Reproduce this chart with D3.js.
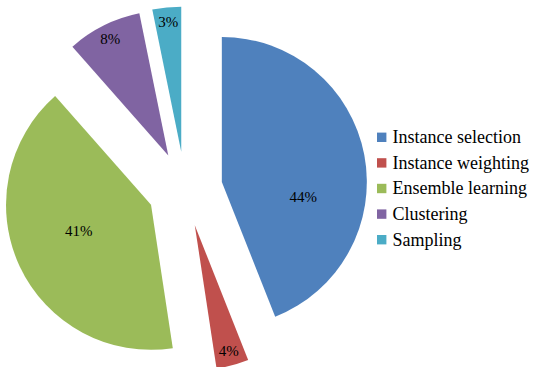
<!DOCTYPE html>
<html>
<head>
<meta charset="utf-8">
<script src="https://cdn.jsdelivr.net/npm/d3@7"></script>
<style>
  html, body { margin: 0; padding: 0; background: #fff; }
  svg { display: block; }
</style>
</head>
<body>
<svg id="chart" width="533" height="367"></svg>
<script>
const categories = ["Instance selection", "Instance weighting", "Ensemble learning", "Clustering", "Sampling"];
const values = [44.0, 3.6, 40.9, 8.3, 3.2];
const colors = ["#4F81BD", "#C0504D", "#9BBB59", "#8064A2", "#4BACC6"];

const svg = d3.select("#chart");
const cx = 185, cy = 189, R = 145, explode = 37.5;

const pie = d3.pie().sort(null).value(d => d.v);
const arcs = pie(categories.map((c, i) => ({ c, v: values[i], col: colors[i] })));
const arc = d3.arc().innerRadius(0).outerRadius(R);
const total = d3.sum(values);

const g = svg.append("g").attr("transform", `translate(${cx},${cy})`);

const slices = g.selectAll("g.slice").data(arcs).enter().append("g")
  .attr("class", "slice")
  .attr("transform", d => {
    const a = (d.startAngle + d.endAngle) / 2;
    return `translate(${Math.sin(a) * explode},${-Math.cos(a) * explode})`;
  });

slices.append("path")
  .attr("d", arc)
  .attr("fill", d => d.data.col);

slices.append("text")
  .attr("transform", d => {
    let a = (d.startAngle + d.endAngle) / 2;
    const frac = d.data.v / total;
    let rr = frac < 0.1 ? 0.9 * R : 0.53 * R;
    if (d.index === 0) { a += 0.37; rr = 0.57 * R; }
    if (d.index === 2) { a += 0.09; }
    return `translate(${Math.sin(a) * rr},${-Math.cos(a) * rr})`;
  })
  .attr("text-anchor", "middle")
  .attr("dy", "0.35em")
  .attr("font-family", "'Liberation Serif', 'Times New Roman', serif")
  .attr("font-size", 15)
  .attr("fill", "#000")
  .text(d => Math.round(d.data.v / total * 100) + "%");

// Legend
const legend = svg.append("g").attr("transform", "translate(377,137.3)");
const rows = legend.selectAll("g").data(categories).enter().append("g")
  .attr("transform", (d, i) => `translate(0,${i * 25.6})`);
rows.append("rect")
  .attr("x", 0).attr("y", -4.7).attr("width", 9.4).attr("height", 9.4)
  .attr("fill", (d, i) => colors[i]);
rows.append("text")
  .attr("x", 15.5)
  .attr("dy", "0.33em")
  .attr("font-family", "'Liberation Serif', 'Times New Roman', serif")
  .attr("font-size", 18)
  .attr("fill", "#000")
  .text(d => d);
</script>
</body>
</html>
